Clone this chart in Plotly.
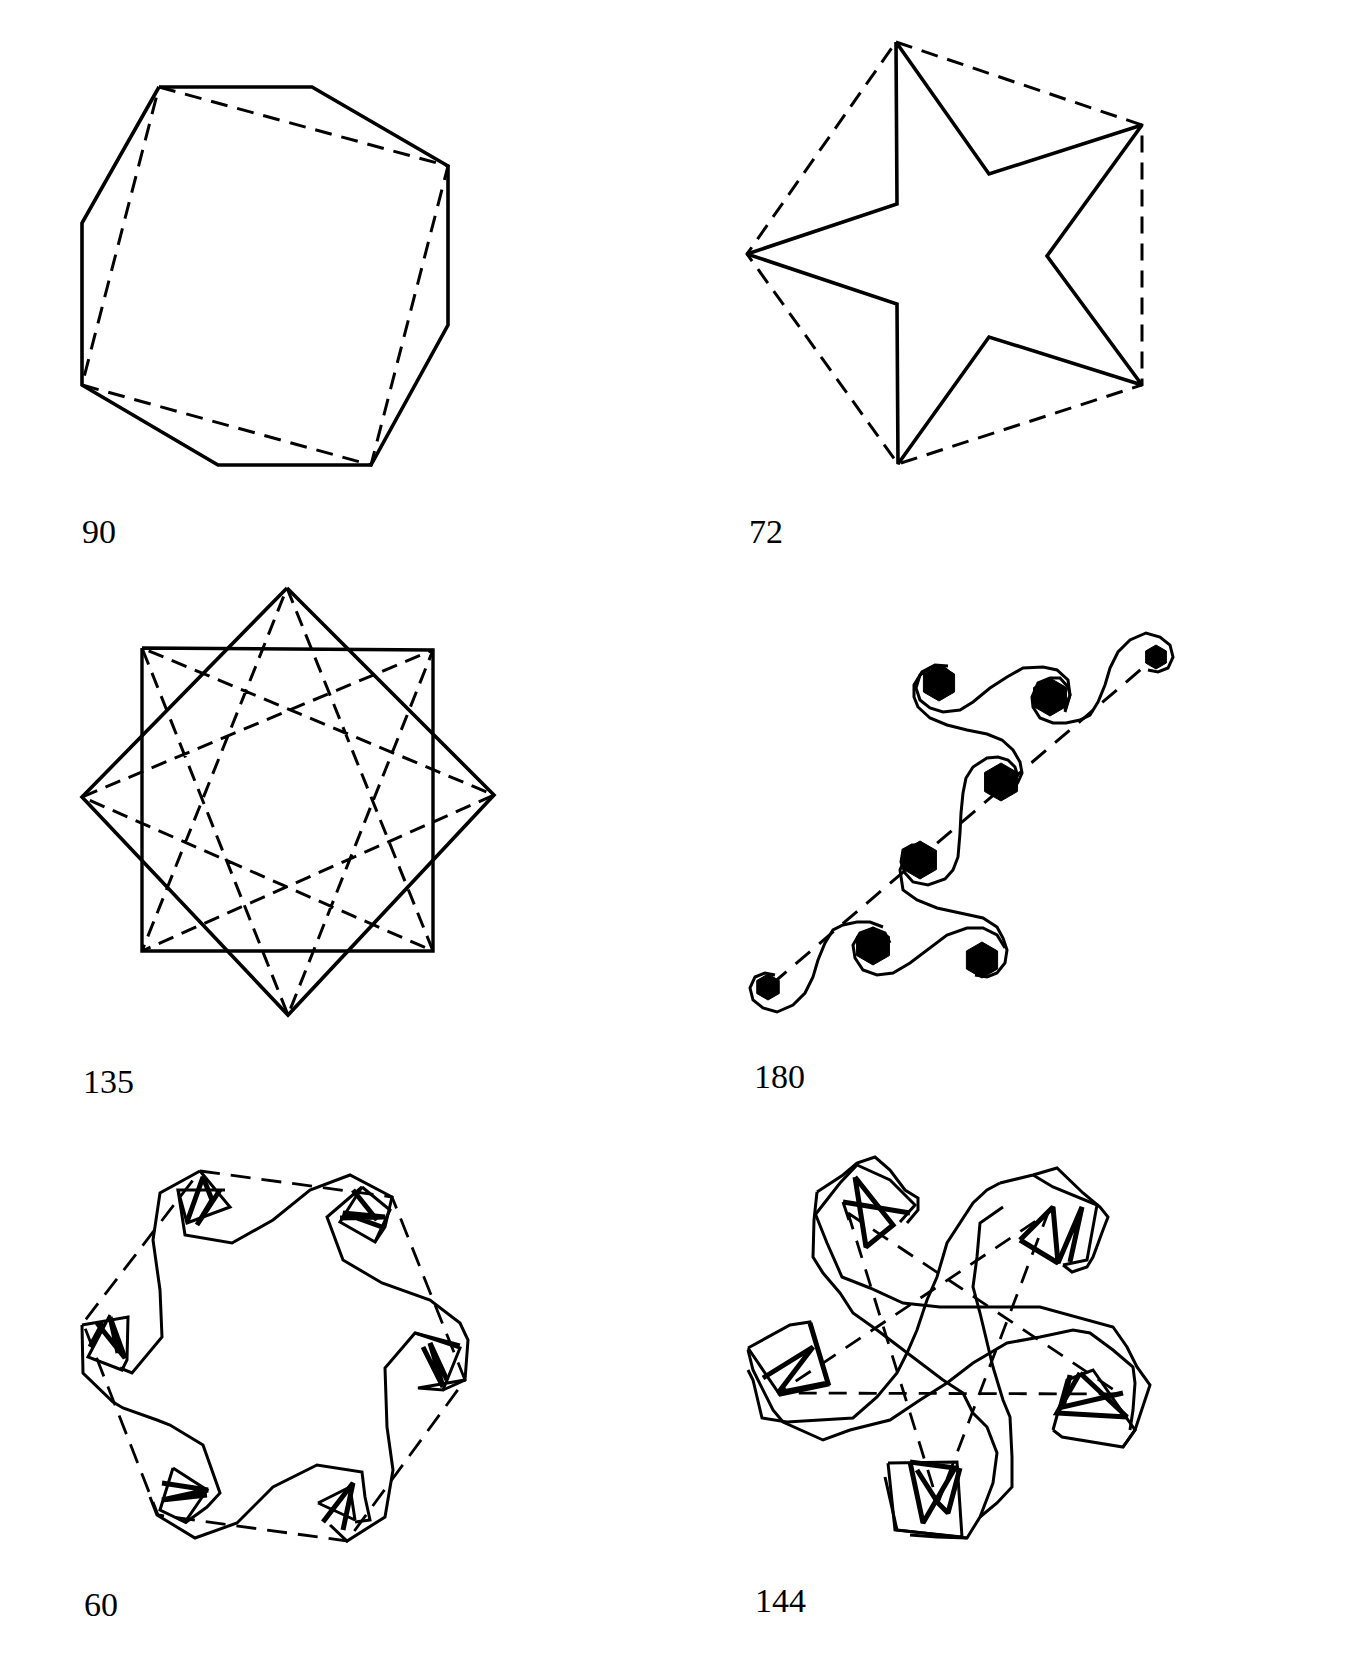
import plotly.graph_objects as go

W, H = 1360, 1664
PAGE_PAD = 8  # default body margin of the html page

# ---------------- panel "90"
P90_SOLID = [(159, 87), (312, 87), (448, 166), (448, 325), (371, 465), (218, 465),
             (82, 385), (82, 223), (159, 87)]
P90_DASH = [(159, 87), (448, 166), (371, 465), (82, 385), (159, 87)]

# ---------------- panel "72"
P72_SOLID = [(896, 42), (989, 174), (1142, 125), (1047, 256), (1142, 385), (989, 337),
             (898, 464), (897, 304), (747, 254), (897, 204), (896, 42)]
P72_DASH = [(896, 42), (1142, 125), (1142, 385), (898, 464), (747, 254), (896, 42)]

# ---------------- panel "135"
P135_SQUARE = [(142, 648), (433, 650), (433, 951), (142, 951), (142, 648)]
P135_DIAMOND = [(287, 588), (494, 795), (288, 1015), (82, 797), (287, 588)]
P135_DASH = [(287, 588), (433, 951), (82, 797), (433, 650), (288, 1015), (142, 648),
             (494, 795), (142, 951), (287, 588)]

# ---------------- panel "180"
P180_CURVES = [
    [(1148, 670), (1158, 672), (1168, 668), (1173, 657), (1170, 645), (1160, 637), (1146, 633),
     (1130, 640), (1118, 652), (1110, 668), (1105, 685), (1098, 702), (1090, 715), (1080, 720),
     (1066, 723), (1053, 723), (1040, 718), (1033, 707), (1032, 697), (1038, 683), (1050, 678),
     (1060, 678), (1068, 687), (1070, 695), (1065, 710)],
    [(1065, 712), (1070, 695), (1068, 680), (1057, 670), (1043, 667), (1023, 668), (1007, 677),
     (990, 688), (973, 702), (960, 710), (943, 712), (930, 708), (920, 700), (916, 688),
     (920, 675), (930, 668), (943, 667), (953, 675)],
    [(948, 666), (935, 665), (922, 672), (914, 685), (914, 697), (918, 707), (930, 718),
     (947, 725), (967, 730), (987, 734), (1002, 740), (1013, 750), (1020, 762), (1022, 773),
     (1018, 782), (1012, 792)],
    [(1018, 777), (1015, 767), (1008, 760), (998, 757), (987, 758), (973, 767), (966, 778),
     (963, 793), (961, 813), (960, 833), (958, 857), (953, 870), (945, 879), (928, 885),
     (913, 882), (905, 873), (901, 862), (903, 850), (912, 845), (923, 845)],
    [(905, 858), (900, 870), (903, 890), (917, 900), (937, 908), (960, 913), (983, 918),
     (997, 927), (1003, 938), (1007, 950), (1005, 963), (997, 973), (987, 977), (975, 975)],
    [(1005, 948), (997, 935), (983, 928), (967, 928), (947, 935), (927, 950), (910, 963),
     (893, 973), (877, 975), (863, 970), (855, 958), (853, 945), (860, 933), (873, 928),
     (885, 933), (890, 943)],
    [(883, 927), (870, 922), (857, 922), (843, 925), (833, 930), (825, 943), (818, 960),
     (813, 977), (805, 993), (793, 1005), (777, 1012), (763, 1008), (753, 1000), (750, 988),
     (755, 977), (765, 973), (775, 975)],
]
P180_DASH = [(772, 984), (1152, 660)]
BLOB_X = [1156, 1050, 939, 1001, 920, 982, 873, 768]
BLOB_Y = [657, 697, 683, 782, 860, 960, 946, 987]
BLOB_D = [24, 38, 36, 38, 38, 36, 38, 26]

# ---------------- panel "60"
P60_DASH = [(200, 1171), (392, 1197), (465, 1380), (347, 1541), (158, 1515), (83, 1323),
            (200, 1171)]
P60_THIN = [
    [(200, 1171), (160, 1193), (153, 1240), (160, 1290), (162, 1337), (132, 1373), (120, 1368)],
    [(178, 1190), (185, 1235), (232, 1243), (273, 1220), (310, 1190), (350, 1175), (392, 1197),
     (385, 1227), (375, 1242)],
    [(362, 1187), (327, 1217), (343, 1260), (382, 1283), (430, 1300), (460, 1323), (468, 1340),
     (465, 1380), (443, 1390)],
    [(460, 1345), (415, 1333), (385, 1368), (387, 1427), (393, 1470), (385, 1517), (347, 1541),
     (330, 1525)],
    [(82, 1325), (83, 1373), (113, 1402), (123, 1408), (157, 1420), (170, 1425), (203, 1445),
     (212, 1470), (220, 1493), (207, 1507), (185, 1523)],
    [(150, 1497), (157, 1515), (195, 1538), (237, 1523), (273, 1487), (317, 1465), (362, 1472),
     (365, 1497), (370, 1520), (355, 1522)],
    [(200, 1171), (230, 1207), (187, 1223), (178, 1190), (225, 1190)],
    [(362, 1187), (390, 1210), (375, 1242), (340, 1222), (362, 1187)],
    [(82, 1325), (128, 1317), (127, 1360), (122, 1370), (88, 1357), (110, 1315)],
    [(415, 1333), (460, 1348), (443, 1390), (418, 1388), (465, 1380)],
    [(173, 1468), (207, 1490), (185, 1522), (160, 1510), (173, 1468)],
    [(318, 1503), (355, 1520), (350, 1487), (318, 1503)],
]
P60_THICK = [
    [(187, 1222), (203, 1177), (212, 1200), (197, 1225), (220, 1190)],
    [(340, 1218), (385, 1217), (343, 1213), (382, 1227)],
    [(353, 1190), (377, 1220)],
    [(97, 1323), (125, 1358), (110, 1317), (118, 1353)],
    [(90, 1347), (103, 1323)],
    [(423, 1347), (443, 1387), (430, 1343), (447, 1380)],
    [(162, 1483), (208, 1490), (162, 1500), (207, 1495)],
    [(323, 1522), (353, 1483), (343, 1530)],
]

# ---------------- panel "144"
P144_DASH = [(848, 1213), (1120, 1394), (778, 1393), (1048, 1213), (938, 1503), (848, 1213)]
P144_THIN = [
    [(817, 1192), (814, 1220), (813, 1257), (823, 1273), (840, 1293), (853, 1313), (877, 1330),
     (907, 1353), (943, 1380), (963, 1393), (973, 1413), (987, 1427), (997, 1453), (993, 1483),
     (980, 1517), (967, 1538), (937, 1537), (910, 1535)],
    [(817, 1192), (843, 1175), (857, 1163), (875, 1157), (890, 1170), (905, 1190), (918, 1198),
     (918, 1210), (907, 1223)],
    [(815, 1215), (840, 1183), (857, 1165), (890, 1180), (915, 1205), (900, 1222)],
    [(815, 1213), (827, 1243), (842, 1277), (870, 1288), (903, 1303), (940, 1307), (1040, 1307),
     (1113, 1327), (1127, 1347), (1137, 1367), (1150, 1385), (1145, 1400), (1135, 1430),
     (1123, 1447)],
    [(1000, 1183), (987, 1190), (973, 1203), (957, 1227), (947, 1243),
     (937, 1277), (927, 1300), (917, 1330), (907, 1353), (897, 1373), (877, 1397), (853, 1418),
     (787, 1422), (762, 1418), (753, 1380), (748, 1370)],
    [(1003, 1207), (980, 1223), (977, 1257), (973, 1287), (980, 1313), (987, 1343), (993, 1367),
     (1003, 1400), (1010, 1417), (1012, 1457), (1012, 1487), (997, 1503), (980, 1517)],
    [(748, 1350), (753, 1370), (773, 1410), (783, 1422), (823, 1440), (850, 1430), (890, 1420),
     (920, 1400), (947, 1383), (973, 1363), (1007, 1343), (1040, 1337), (1073, 1330),
     (1090, 1333), (1113, 1350), (1133, 1367), (1135, 1383), (1133, 1410), (1130, 1430)],
    [(1000, 1183), (1033, 1175), (1057, 1168), (1072, 1182), (1083, 1193), (1100, 1207),
     (1108, 1217), (1103, 1230), (1093, 1257), (1087, 1267), (1072, 1272), (1063, 1265)],
    [(1033, 1175), (1053, 1187), (1097, 1205), (1087, 1260), (1063, 1265)],
    [(843, 1202), (849, 1220)],
    [(748, 1348), (790, 1325), (810, 1322), (828, 1385), (780, 1395), (748, 1348)],
    [(1053, 1430), (1067, 1380), (1093, 1370), (1135, 1430), (1123, 1447), (1062, 1437),
     (1053, 1430)],
    [(888, 1463), (957, 1462), (962, 1537), (895, 1530), (888, 1463)],
    [(885, 1477), (897, 1530), (967, 1538)],
]
P144_THICK = [
    [(855, 1177), (866, 1247), (893, 1225), (855, 1177)],
    [(843, 1202), (910, 1213)],
    [(1020, 1240), (1053, 1207), (1058, 1263), (1020, 1240)],
    [(1058, 1263), (1082, 1207), (1070, 1262)],
    [(763, 1378), (813, 1347), (778, 1393), (828, 1383), (810, 1323)],
    [(1080, 1373), (1127, 1417), (1057, 1413), (1080, 1373)],
    [(1070, 1375), (1063, 1407), (1123, 1393)],
    [(910, 1462), (923, 1523), (955, 1468), (910, 1462)],
    [(917, 1470), (938, 1503), (948, 1513), (960, 1468)],
]

LABELS = ["90", "72", "135", "180", "60", "144"]
LABEL_X = [80, 747, 81, 752, 82, 753]
LABEL_Y = [531, 531, 1081, 1076, 1604, 1600]

fig = go.Figure()


def path(pts, width=3.4, dash="solid"):
    fig.add_trace(go.Scatter(
        x=[p[0] for p in pts], y=[p[1] for p in pts], mode="lines",
        line=dict(color="black", width=width, dash=dash),
        hoverinfo="skip", showlegend=False,
    ))


path(P90_SOLID, 3.6)
path(P90_DASH, 3.0, "17px,10px")
path(P72_SOLID, 3.6)
path(P72_DASH, 3.0, "17px,10px")
path(P135_SQUARE, 3.4)
path(P135_DIAMOND, 3.6)
path(P135_DASH, 3.0, "16px,9px")

for c in P180_CURVES:
    path(c, 3.0)
path(P180_DASH, 3.0, "19px,12px")
fig.add_trace(go.Scatter(
    x=BLOB_X, y=BLOB_Y, mode="markers",
    marker=dict(symbol="hexagon", size=BLOB_D, color="black", opacity=1,
                line=dict(width=1, color="black")),
    hoverinfo="skip", showlegend=False,
))

path(P60_DASH, 2.8, "20px,11px")
for c in P60_THIN:
    path(c, 3.0)
for c in P60_THICK:
    path(c, 5.0)

path(P144_DASH, 2.8, "18px,12px")
for c in P144_THIN:
    path(c, 3.0)
for c in P144_THICK:
    path(c, 5.0)

for t, x, y in zip(LABELS, LABEL_X, LABEL_Y):
    fig.add_annotation(x=x, y=y, text=t, showarrow=False, xanchor="left", yanchor="middle",
                       font=dict(family="Liberation Serif", size=34, color="black"))

fig.update_layout(
    width=W, height=H,
    margin=dict(l=0, r=0, t=0, b=0),
    paper_bgcolor="white", plot_bgcolor="white",
    xaxis=dict(range=[PAGE_PAD, W + PAGE_PAD], visible=False, fixedrange=True),
    yaxis=dict(range=[H + PAGE_PAD, PAGE_PAD], visible=False, fixedrange=True),
)

fig.write_html("out.html")
